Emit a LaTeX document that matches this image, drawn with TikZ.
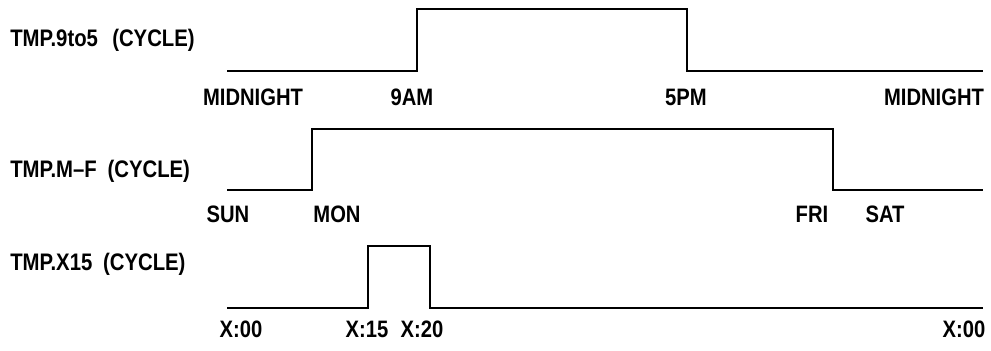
\documentclass[tikz,border=0pt]{standalone}
\usepackage{fontspec}
\setmainfont{Liberation Sans}
\newfontfamily\labfont[FakeStretch=0.85,Ligatures=TeX]{Liberation Sans}
\usetikzlibrary{positioning}

\begin{document}
\begin{tikzpicture}[x=0.025cm,y=-0.025cm,line join=miter]
\tikzstyle{wave}=[line width=2pt]
\tikzstyle{ttl}=[anchor=base west,inner sep=0pt,font=\labfont\fontsize{17}{19}\selectfont\bfseries]
\tikzstyle{lab}=[anchor=base,inner sep=0pt,font=\labfont\fontsize{16.9}{18}\selectfont\bfseries]
\useasboundingbox (0,0) rectangle (991,350);
% row 1: 9 to 5
\node[ttl] (t9to5) at (10,46) {TMP.9to5\hspace{0.6em}(CYCLE)};
\draw[wave] (227,71) -- (417,71) -- (417,9) -- (687,9) -- (687,71) -- (983,71);
\foreach \n/\x/\t in {mid1/253/MIDNIGHT,am9/412/9AM,pm5/686/5PM,mid2/934/MIDNIGHT} \node[lab] (\n) at (\x,105) {\t};
% row 2: monday to friday
\node[ttl] (tmf) at (10,177) {TMP.M\textendash F\hspace{0.45em}(CYCLE)};
\draw[wave] (227,190) -- (312,190) -- (312,129) -- (833,129) -- (833,190) -- (983,190);
\foreach \n/\x/\t in {sun/228/SUN,mon/337/MON,fri/812/FRI,sat/885/SAT} \node[lab] (\n) at (\x,222) {\t};
% row 3: X15
\node[ttl] (tx15) at (10,270) {TMP.X15\hspace{0.45em}(CYCLE)};
\draw[wave] (227,308) -- (368,308) -- (368,246) -- (430,246) -- (430,308) -- (983,308);
\foreach \n/\x/\t in {x00/241/X:00,x15/367/X:15,x20/422/X:20,x60/964/X:00} \node[lab] (\n) at (\x,337) {\t};
\end{tikzpicture}
\end{document}
